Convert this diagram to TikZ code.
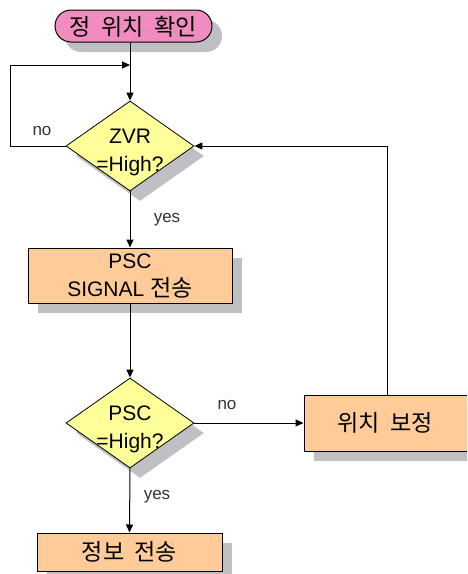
\documentclass[tikz,border=0pt]{standalone}
\usepackage{fontspec}
\setmainfont{Liberation Sans}
\newfontfamily\kr[Scale=1.1]{Noto Sans CJK KR}
\usetikzlibrary{shapes.geometric,arrows.meta,shadows}
\definecolor{pinkfill}{RGB}{240,140,192}
\definecolor{yelfill}{RGB}{255,255,153}
\definecolor{peach}{RGB}{255,204,153}
\definecolor{shadowgray}{RGB}{190,192,196}
\begin{document}
\begin{tikzpicture}[x=1pt,y=-1pt,
  shad/.style={drop shadow={shadow xshift=10pt,shadow yshift=-10pt,fill=shadowgray,opacity=1}},
  term/.style={draw=black,line width=1pt,fill=pinkfill,rectangle,rounded corners=16pt,minimum width=157pt,minimum height=32pt,inner sep=0pt,shad},
  decide/.style={draw=black,line width=0.8pt,fill=yelfill,diamond,minimum width=128pt,minimum height=90pt,inner sep=0pt,shad},
  procbox/.style={draw=black,line width=1pt,fill=peach,rectangle,inner sep=0pt,shad},
  txt/.style={font=\fontsize{21}{28}\selectfont,align=center,inner sep=0pt},
  lbl/.style={font=\fontsize{17}{20}\selectfont,text=black!80,inner sep=0pt},
  flow/.style={line width=1pt,-{Triangle[length=8pt,width=7pt]}},
  plain/.style={line width=1pt}]
\useasboundingbox (0,0) rectangle (467,574);
\clip (0,0) rectangle (467,574);

\node[term] (start) at (133.5,26) {};
\node[txt] (startt) at (133.5,27) {\kr 정\hspace{0.45em}위치\hspace{0.45em}확인};

\node[decide] (d1) at (130,146) {};
\node[txt] (d1t) at (130,152) {ZVR\\=High?};

\node[procbox,minimum width=204pt,minimum height=55pt] (b1) at (130,275.5) {};
\node[txt] (b1t) at (130,276) {PSC\\SIGNAL {\kr 전송}};

\node[decide] (d2) at (130,423) {};
\node[txt] (d2t) at (130,429) {PSC\\=High?};

\node[procbox,minimum width=166pt,minimum height=56pt] (b2) at (387,423) {};
\node[txt] (b2t) at (385,423) {\kr 위치\hspace{0.45em}보정};

\node[procbox,minimum width=185pt,minimum height=38pt] (b3) at (129.5,552) {};
\node[txt] (b3t) at (129.5,552) {\kr 정보\hspace{0.45em}전송};

\coordinate (join) at (130,65);
\coordinate (lt) at (10,65);
\coordinate (rt) at (387,146);

\draw[flow] (d1.north |- start.south) -- (d1.north);
\draw[flow] (d1.west) -- (d1.west -| lt) -- (lt) -- (join);
\draw[flow] (d1.south) -- (b1.north);
\draw[flow] (b1.south) -- (d2.north);
\draw[flow] (d2.east) -- (b2.west);
\draw[flow] (b2.north) -- (rt) -- (d1.east);
\draw[flow] (d2.south) -- (b3.north);

\node[lbl] (no1) at (42,131) {no};
\node[lbl] (yes1) at (167,220) {yes};
\node[lbl] (no2) at (227,405) {no};
\node[lbl] (yes2) at (157,497) {yes};
\end{tikzpicture}
\end{document}
